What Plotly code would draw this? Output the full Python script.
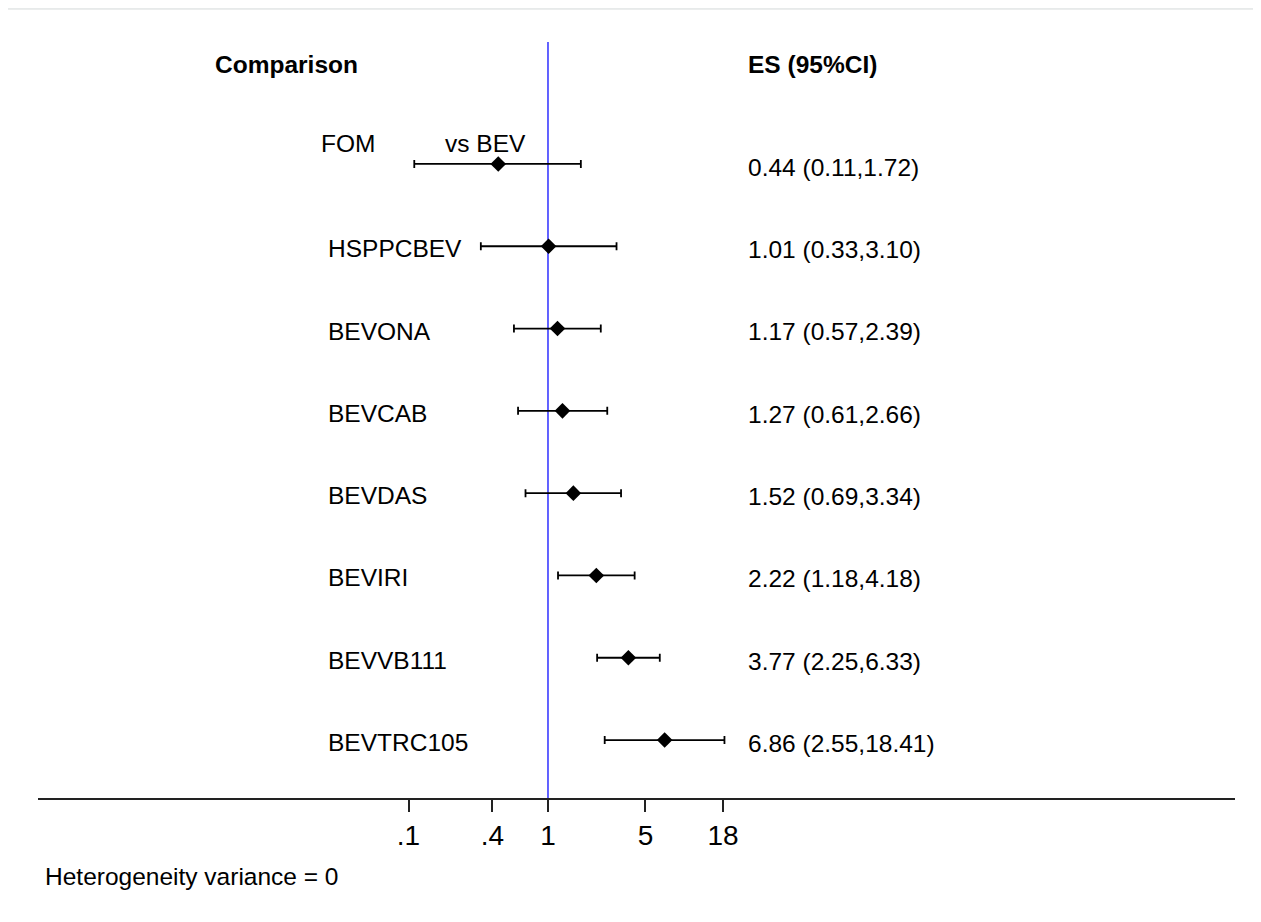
import math
import plotly.graph_objects as go

# ---- data ----
comparisons = ["FOM vs BEV", "HSPPCBEV", "BEVONA", "BEVCAB", "BEVDAS", "BEVIRI", "BEVVB111", "BEVTRC105"]
es = [0.44, 1.01, 1.17, 1.27, 1.52, 2.22, 3.77, 6.86]
ci_low = [0.11, 0.33, 0.57, 0.61, 0.69, 1.18, 2.25, 2.55]
ci_high = [1.72, 3.10, 2.39, 2.66, 3.34, 4.18, 6.33, 18.41]
tick_vals = [0.1, 0.4, 1, 5, 18]
tick_text = [".1", ".4", "1", "5", "18"]
header_left = "Comparison"
header_right = "ES (95%CI)"
footnote = "Heterogeneity variance = 0"

FONT = "Liberation Sans, Arial, Helvetica, sans-serif"
rows = list(range(len(comparisons)))
y_range = [7.704, -1.482]
x_range = [-3.656, 4.925]

fig = go.Figure()

# reference line at 1
fig.add_trace(go.Scatter(
    x=[1, 1], y=[y_range[0], y_range[1]], mode="lines",
    line=dict(color="rgb(60,60,255)", width=1.6),
    hoverinfo="skip", showlegend=False))

# estimates with CIs
fig.add_trace(go.Scatter(
    x=es, y=rows, mode="markers",
    marker=dict(symbol="diamond", size=12, color="black"),
    error_x=dict(type="data", symmetric=False,
                 array=[h - e for h, e in zip(ci_high, es)],
                 arrayminus=[e - l for e, l in zip(es, ci_low)],
                 color="black", thickness=1.8, width=4),
    showlegend=False))

annotations = []
def ann(text, x, y, size=24.5, bold=False, yref="y", xanchor="left"):
    annotations.append(dict(
        text=f"<b>{text}</b>" if bold else text, x=x, y=y, xref="paper", yref=yref,
        xanchor=xanchor, yanchor="middle", showarrow=False,
        font=dict(family=FONT, size=size, color="black")))

ann(header_left, 0.1465, -1.205, bold=True)
ann(header_right, 0.5915, -1.205, bold=True)

for i, (lab, e, l, h) in enumerate(zip(comparisons, es, ci_low, ci_high)):
    if " vs " in lab:
        a, b = lab.split(" vs ")
        ann(a, 0.2350, i - 0.245)
        ann("vs " + b, 0.3385, i - 0.245)
    else:
        ann(lab, 0.2410, i + 0.03)
    ann(f"{e:.2f} ({l:.2f},{h:.2f})", 0.5915, i + 0.04)

ann(footnote, 0.0045, -0.1032, yref="paper")

fig.update_layout(
    width=1253, height=914,
    margin=dict(l=30, r=26, t=34, b=124, pad=0),
    paper_bgcolor="white", plot_bgcolor="white",
    font=dict(family=FONT, color="black"),
    annotations=annotations,
    shapes=[dict(type="rect", xref="paper", yref="paper",
                 x0=-0.0292, x1=1.05, y0=-0.2, y1=1.0437,
                 line=dict(color="#d4d8d8", width=1), fillcolor="rgba(0,0,0,0)",
                 layer="below")],
    xaxis=dict(type="log", range=x_range, showgrid=False, zeroline=False,
               showline=True, linecolor="#222", linewidth=1.6,
               tickmode="array", tickvals=tick_vals, ticktext=tick_text,
               ticks="outside", ticklen=12, tickwidth=1.6, tickcolor="#222",
               tickfont=dict(family=FONT, size=28, color="black")),
    yaxis=dict(range=y_range, visible=False, showgrid=False, zeroline=False),
)

fig.write_html("out.html")
